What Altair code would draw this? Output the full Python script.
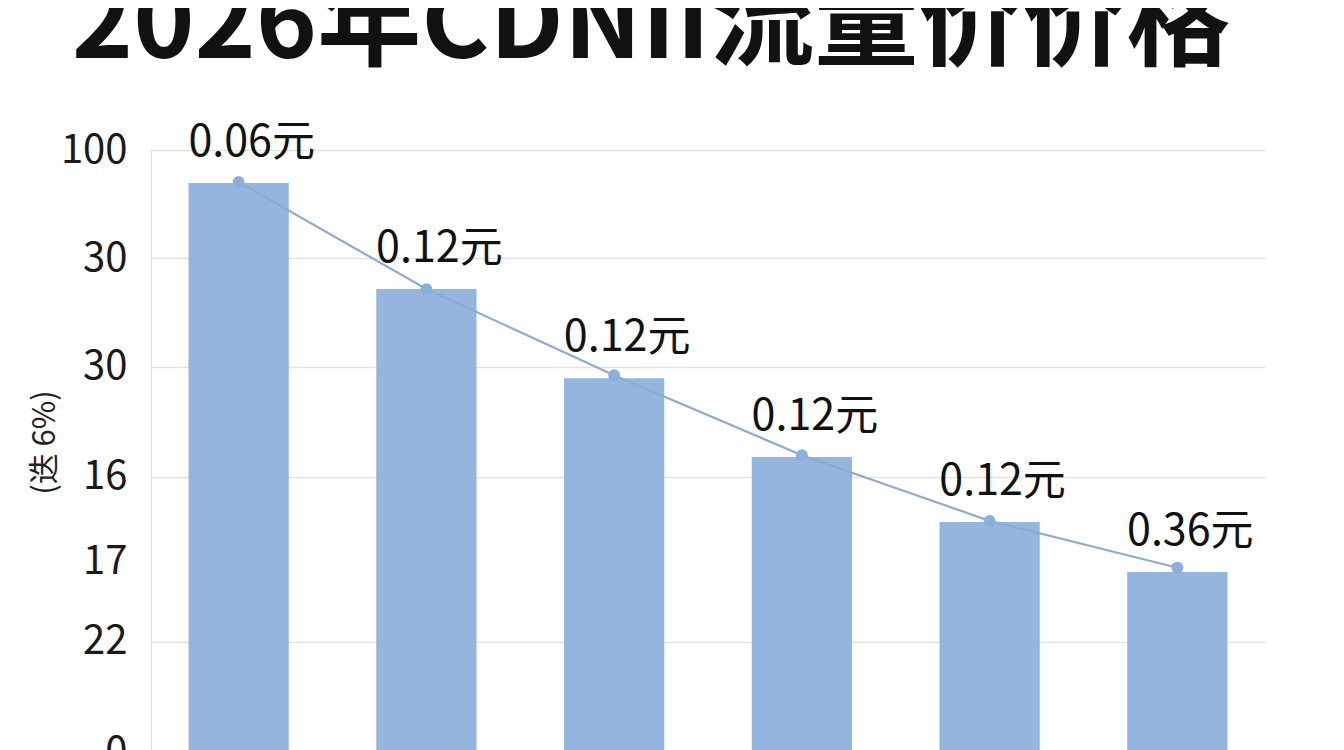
import altair as alt
import pandas as pd

categories = ["1", "2", "3", "4", "5", "6"]
bar_values = [94.5, 76.9, 62.1, 49.0, 38.2, 29.9]
line_values = [94.7, 76.9, 62.6, 49.3, 38.4, 30.6]
price_labels = ["0.06元", "0.12元", "0.12元", "0.12元", "0.12元", "0.36元"]
tick_values = [0, 18.3, 31.6, 45.7, 64, 82, 100]
tick_labels = ["0", "22", "17", "16", "30", "30", "100"]
title_text = ["2026年CDNII流量价价格"]
axis_title = "(迭 6%)"

df = pd.DataFrame({"cat": categories, "bar": bar_values, "line": line_values, "label": price_labels})
title_df = pd.DataFrame({"t": title_text})

label_map = "{" + ",".join(f"'{v}':'{l}'" for v, l in zip(tick_values, tick_labels)) + "}"
FONT = "Noto Sans CJK SC"

x_enc = alt.X("cat:N", sort=categories, axis=None,
              scale=alt.Scale(paddingInner=0.466, paddingOuter=0.2))
y_scale = alt.Scale(domain=[0, 100], nice=False, zero=True)

base = alt.Chart(df)

bars = base.mark_bar(color="#93b5de").encode(
    x=x_enc,
    y=alt.Y("bar:Q", scale=y_scale,
            axis=alt.Axis(values=tick_values,
                          labelExpr=f"{label_map}[datum.value + '']",
                          labelFont=FONT, labelFontSize=40, labelColor="#1a1a1a",
                          labelPadding=24, ticks=False, domain=True, domainColor="#dcdcdc",
                          grid=True, gridColor="#e2e2e2", gridWidth=1.5,
                          gridOpacity={"condition": {"test": "datum.value == 31.6", "value": 0}, "value": 1},
                          title=axis_title, titleFont=FONT, titleFontSize=31,
                          titleFontWeight="normal", titleColor="#222",
                          titleAngle=270, titleX=-106, titleY=292,
                          titleAlign="center", titleBaseline="middle")),
)

line = base.mark_line(color="#8eabd0", strokeWidth=2.2).encode(
    x=x_enc, y=alt.Y("line:Q", scale=y_scale)
)
points = base.mark_circle(color="#8cafda", size=140, opacity=1).encode(
    x=x_enc, y=alt.Y("line:Q", scale=y_scale)
)
labels = base.mark_text(font=FONT, fontSize=43, color="#111", baseline="alphabetic",
                        align="center", dx=13, dy=-27).encode(
    x=x_enc, y=alt.Y("bar:Q", scale=y_scale), text="label:N"
)
title = alt.Chart(title_df).mark_text(font=FONT, fontSize=104, fontWeight="bold",
                                      color="#111", align="center", baseline="alphabetic").encode(
    x=alt.value(500), y=alt.value(-92), text="t:N"
)

chart = alt.layer(bars, line, points, labels, title).properties(
    width=1114, height=602,
    padding={"left": 143, "top": 142, "right": 71, "bottom": 30},
    autosize=alt.AutoSizeParams(type="none"),
    background="white",
).configure_view(stroke=None)

chart.save("out.html", embed_options={"renderer": "svg", "actions": False})
